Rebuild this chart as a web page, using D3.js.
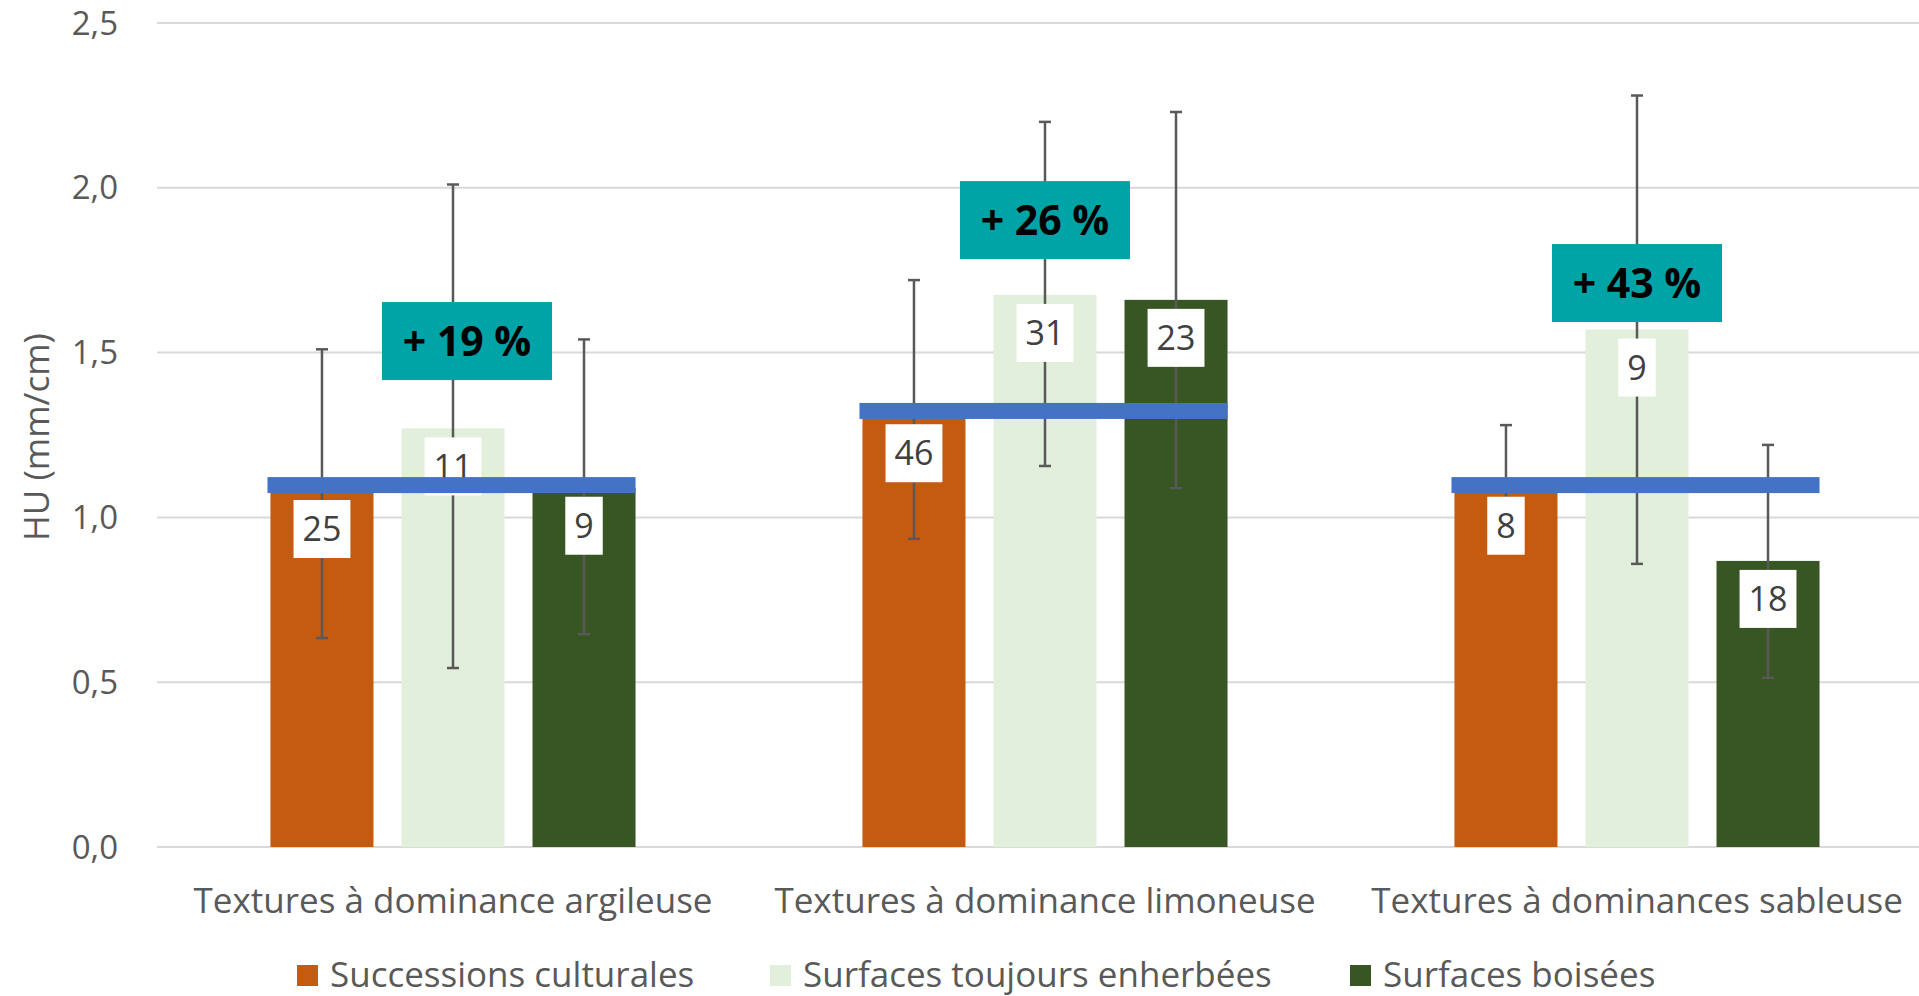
<!DOCTYPE html>
<html>
<head>
<meta charset="utf-8">
<script src="https://cdn.jsdelivr.net/npm/d3@7"></script>
<style>
  html, body { margin: 0; padding: 0; background: #fff; }
  svg { display: block; font-family: "Open Sans", "Noto Sans", sans-serif; }
</style>
</head>
<body>
<svg id="chart" width="1919" height="996"></svg>
<script>
// ---- Data ----
const categories = ["Textures à dominance argileuse", "Textures à dominance limoneuse", "Textures à dominances sableuse"];
const series = ["Successions culturales", "Surfaces toujours enherbées", "Surfaces boisées"];
const colors = ["#C55A11", "#E2EFDA", "#375623"];
// mean HU per category (rows) and series (cols)
const values = [
  [1.08, 1.27, 1.09],
  [1.31, 1.675, 1.66],
  [1.09, 1.57, 0.868]
];
// error bar upper / lower bounds
const errHigh = [
  [1.51, 2.01, 1.54],
  [1.72, 2.20, 2.23],
  [1.28, 2.28, 1.22]
];
const errLow = [
  [0.634, 0.543, 0.646],
  [0.935, 1.156, 1.089],
  [0.90, 0.859, 0.513]
];
// sample counts shown in labels
const counts = [
  [25, 11, 9],
  [46, 31, 23],
  [8, 9, 18]
];
// overall mean per category (blue line)
const means = [1.098, 1.323, 1.098];
// percentage annotations and their vertical anchor (data units)
const pctLabels = ["+ 19 %", "+ 26 %", "+ 43 %"];
const pctAnchor = [1.535, 1.902, 1.711];
const pctOffsetX = [14, 0, 0]; // layout offsets (px)
const yTicks = [0, 0.5, 1.0, 1.5, 2.0, 2.5];

// ---- Layout ----
const svg = d3.select("#chart");
const plotLeft = 157, plotRight = 1933, yTop = 23, yBottom = 847;

const y = d3.scaleLinear().domain([0, 2.5]).range([yBottom, yTop]);
const x0 = d3.scaleBand().domain(categories).range([plotLeft, plotRight]).padding(0);
const x1 = d3.scaleBand().domain(series).range([0, x0.bandwidth()])
  .paddingInner(0.2137).paddingOuter(0.866);
const fmt = v => d3.format(".1f")(v).replace(".", ",");

// gridlines
svg.append("g").selectAll("line").data(yTicks).join("line")
  .attr("x1", plotLeft).attr("x2", 1919)
  .attr("y1", d => y(d)).attr("y2", d => y(d))
  .attr("stroke", "#D9D9D9").attr("stroke-width", 2);

// y tick labels
svg.append("g").selectAll("text").data(yTicks).join("text")
  .attr("x", 118).attr("y", d => y(d))
  .attr("dy", "0.35em").attr("text-anchor", "end")
  .attr("font-size", 33).attr("fill", "#595959")
  .text(fmt);

// y axis title
svg.append("text")
  .attr("transform", "translate(37,437) rotate(-90)")
  .attr("text-anchor", "middle").attr("dy", "0.35em")
  .attr("font-size", 35).attr("fill", "#595959")
  .text("HU (mm/cm)");

// flatten
const cells = [];
categories.forEach((c, i) => series.forEach((s, j) => {
  cells.push({c, s, i, j, v: values[i][j], hi: errHigh[i][j], lo: errLow[i][j], n: counts[i][j]});
}));
const bx = d => x0(d.c) + x1(d.s);
const bw = x1.bandwidth();

// bars
svg.append("g").selectAll("rect").data(cells).join("rect")
  .attr("x", bx).attr("width", bw)
  .attr("y", d => y(d.v)).attr("height", d => y(0) - y(d.v))
  .attr("fill", d => colors[d.j]);

// error bars
const eg = svg.append("g").attr("stroke", "#595959").attr("stroke-width", 2.5);
eg.selectAll("line.v").data(cells).join("line").attr("class", "v")
  .attr("x1", d => bx(d) + bw / 2).attr("x2", d => bx(d) + bw / 2)
  .attr("y1", d => y(d.hi)).attr("y2", d => y(d.lo));
eg.selectAll("line.t").data(cells).join("line").attr("class", "t")
  .attr("x1", d => bx(d) + bw / 2 - 6).attr("x2", d => bx(d) + bw / 2 + 6)
  .attr("y1", d => y(d.hi)).attr("y2", d => y(d.hi));
eg.selectAll("line.b").data(cells).join("line").attr("class", "b")
  .attr("x1", d => bx(d) + bw / 2 - 6).attr("x2", d => bx(d) + bw / 2 + 6)
  .attr("y1", d => y(d.lo)).attr("y2", d => y(d.lo));

// count labels
const lg = svg.append("g").selectAll("g").data(cells).join("g")
  .attr("transform", d => `translate(${bx(d) + bw / 2},${y(d.v) + 9})`);
lg.append("text")
  .attr("y", 29).attr("dy", "0.36em").attr("text-anchor", "middle")
  .attr("font-size", 34).attr("fill", "#404040")
  .text(d => d.n);
lg.insert("rect", "text")
  .attr("height", 58).attr("y", 0)
  .attr("fill", "#fff")
  .each(function() {
    const t = d3.select(this.parentNode).select("text").node();
    const w = t.getComputedTextLength() + 18;
    d3.select(this).attr("x", -w / 2).attr("width", w);
  });

// mean line
svg.append("g").selectAll("rect").data(means).join("rect")
  .attr("x", (d, i) => x0(categories[i]) + x1(series[0]) - 3)
  .attr("width", (d, i) => x1(series[2]) + bw - x1(series[0]) + 3)
  .attr("y", d => y(d) - 8).attr("height", 16)
  .attr("fill", "#4472C4");

// percentage boxes
const pg = svg.append("g").selectAll("g").data(pctLabels).join("g")
  .attr("transform", (d, i) => `translate(${x0(categories[i]) + x1(series[1]) + bw / 2 + pctOffsetX[i]},${y(pctAnchor[i])})`);
pg.append("rect").attr("x", -85).attr("y", -39).attr("width", 170).attr("height", 78)
  .attr("fill", "#00A3A6");
pg.append("text").attr("text-anchor", "middle").attr("dy", "0.36em")
  .attr("font-size", 41).attr("font-weight", "bold").attr("fill", "#000")
  .text(d => d);

// category labels
svg.append("g").selectAll("text").data(categories).join("text")
  .attr("x", d => x0(d) + x0.bandwidth() / 2).attr("y", 913)
  .attr("text-anchor", "middle").attr("font-size", 35).attr("fill", "#595959")
  .text(d => d);

// legend
const legendX = [297, 770, 1350];
const leg = svg.append("g").selectAll("g").data(series).join("g")
  .attr("transform", (d, i) => `translate(${legendX[i]},965)`);
leg.append("rect").attr("width", 21).attr("height", 21).attr("fill", (d, i) => colors[i]);
leg.append("text").attr("x", 33).attr("y", 22).attr("font-size", 35).attr("fill", "#595959")
  .text(d => d);
</script>
</body>
</html>
